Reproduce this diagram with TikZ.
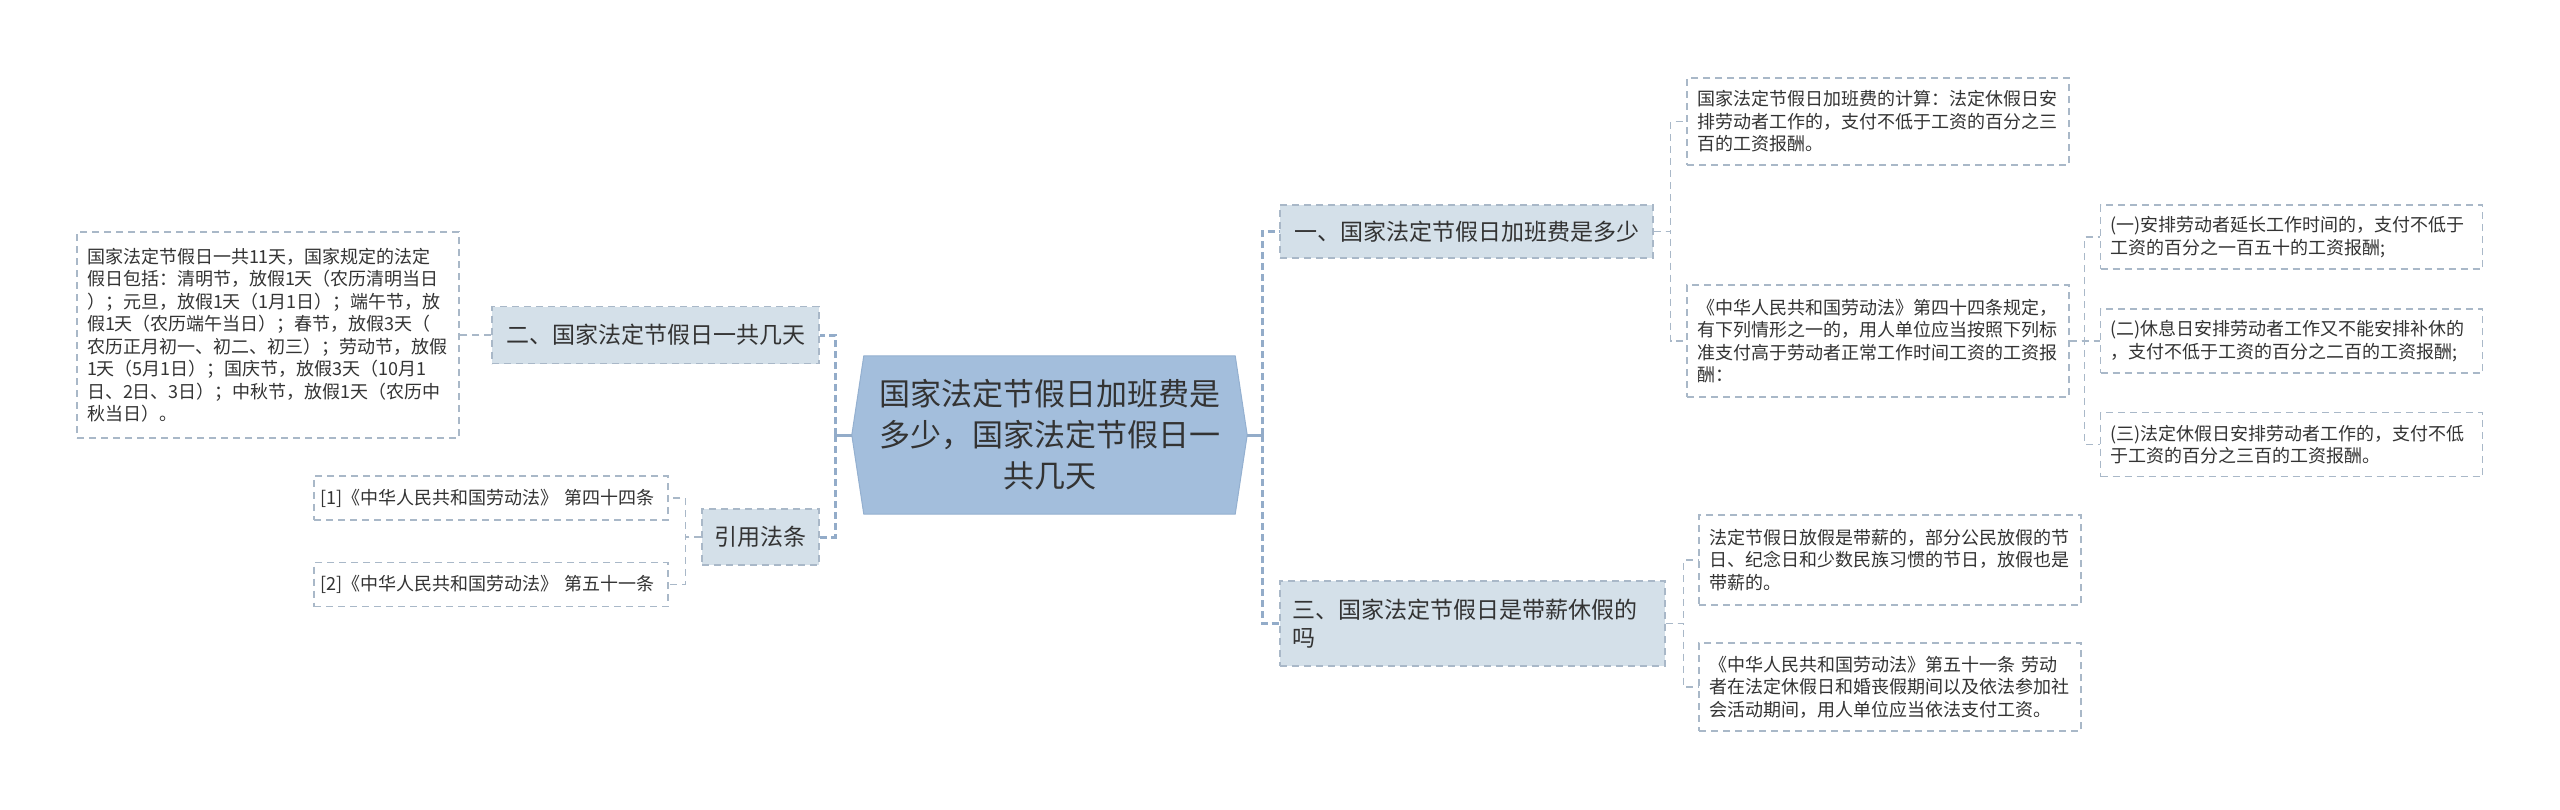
\documentclass[tikz,border=0pt]{standalone}
\usepackage{fontspec}
\setmainfont{Noto Sans CJK SC}
\usetikzlibrary{backgrounds}
\definecolor{rootfill}{HTML}{A3BEDC}
\definecolor{rootline}{HTML}{94B0D0}
\definecolor{topicfill}{HTML}{D4E0E9}
\definecolor{boxline}{HTML}{A9B8C8}
\definecolor{trunkline}{HTML}{93ACC9}
\definecolor{inktext}{HTML}{333333}

\begin{document}
\begin{tikzpicture}[x=1pt, y=-1pt,
  root/.style={minimum width=371pt, minimum height=158pt, inner sep=0pt, align=center, text=inktext, font=\fontsize{31}{41}\selectfont},
  topic/.style={draw=boxline, dash pattern=on 7pt off 5pt, line width=1.3pt, fill=topicfill, inner xsep=12pt, inner ysep=0pt, text=inktext, font=\fontsize{23}{28}\selectfont},
  leaf/.style={draw=boxline, dash pattern=on 7pt off 5pt, line width=1.3pt, fill=white, inner xsep=10pt, inner ysep=0pt, text width=362pt, align=left, text=inktext, font=\fontsize{18}{22.5}\selectfont},
  mainline/.style={draw=trunkline, line width=3pt, dash pattern=on 7pt off 4pt},
  mainstub/.style={draw=trunkline, line width=3pt},
  subline/.style={draw=boxline, line width=1.3pt, dash pattern=on 7pt off 5pt}]
  \useasboundingbox (0,0) rectangle (2560,809);

  % Root
  \node[root] (ctr) at (1049.5,435) {国家法定节假日加班费是\\多少，国家法定节假日一\\共几天};
  \begin{scope}[on background layer]
    \fill[white] (0,0) rectangle (2560,809);
    \filldraw[fill=rootfill, draw=rootline, line width=1pt] (ctr.north west) -- (ctr.north east) -- ([xshift=12pt]ctr.east) -- (ctr.south east) -- (ctr.south west) -- ([xshift=-12pt]ctr.west) -- cycle;
  \end{scope}

  % Left nodes
  \node[topic, minimum width=327pt, minimum height=57pt] (days) at (655.5,335) {二、国家法定节假日一共几天};
  \node[leaf, minimum height=206pt] (daysnote) at (268,335) {国家法定节假日一共11天，国家规定的法定\\假日包括：清明节，放假1天（农历清明当日\\）；元旦，放假1天（1月1日）；端午节，放\\假1天（农历端午当日）；春节，放假3天（\\农历正月初一、初二、初三）；劳动节，放假\\1天（5月1日）；国庆节，放假3天（10月1\\日、2日、3日）；中秋节，放假1天（农历中\\秋当日）。};
  \node[topic, minimum width=117pt, minimum height=56pt] (cite) at (760.5,537) {引用法条};
  \node[leaf, text width=342pt, inner xsep=6pt, minimum height=44pt] (law44) at (491,498) {[1]《中华人民共和国劳动法》~第四十四条};
  \node[leaf, text width=342pt, inner xsep=6pt, minimum height=44pt] (law51) at (491,584.5) {[2]《中华人民共和国劳动法》~第五十一条};

  % Right nodes
  \node[topic, minimum width=373pt, minimum height=53pt] (pay) at (1466.5,231.5) {一、国家法定节假日加班费是多少};
  \node[leaf, minimum height=87pt] (payrule) at (1878,121.5) {国家法定节假日加班费的计算：法定休假日安\\排劳动者工作的，支付不低于工资的百分之三\\百的工资报酬。};
  \node[leaf, minimum height=112pt] (payart) at (1878,341) {《中华人民共和国劳动法》第四十四条规定，\\有下列情形之一的，用人单位应当按照下列标\\准支付高于劳动者正常工作时间工资的工资报\\酬：};
  \node[leaf, minimum height=64pt] (case1) at (2291.5,237) {(一)安排劳动者延长工作时间的，支付不低于\\工资的百分之一百五十的工资报酬;};
  \node[leaf, minimum height=64pt] (case2) at (2291.5,341) {(二)休息日安排劳动者工作又不能安排补休的\\，支付不低于工资的百分之二百的工资报酬;};
  \node[leaf, minimum height=64pt] (case3) at (2291.5,444.5) {(三)法定休假日安排劳动者工作的，支付不低\\于工资的百分之三百的工资报酬。};
  \node[topic, text width=361pt, align=left, minimum height=85pt] (paid) at (1472.5,623.5) {三、国家法定节假日是带薪休假的\\吗};
  \node[leaf, minimum height=90pt] (paidnote) at (1890,560) {法定节假日放假是带薪的，部分公民放假的节\\日、纪念日和少数民族习惯的节日，放假也是\\带薪的。};
  \node[leaf, minimum height=88pt] (paidlaw) at (1890,687) {《中华人民共和国劳动法》第五十一条 劳动\\者在法定休假日和婚丧假期间以及依法参加社\\会活动期间，用人单位应当依法支付工资。};

  % Edges
  \coordinate (jL) at (835,435);
  \coordinate (jR) at (1262,435);
  \draw[mainstub] ([xshift=-12pt]ctr.west) -- (jL);
  \draw[mainline] (jL) |- (days.east);
  \draw[mainline] (jL) |- (cite.east);
  \draw[mainstub] ([xshift=12pt]ctr.east) -- (jR);
  \draw[mainline] (jR) |- (pay.west);
  \draw[mainline] (jR) |- (paid.west);

  \draw[subline] (days.west) -- (daysnote.east);
  \draw[subline] (cite.west) -- ++(-16,0) |- (law44.east);
  \draw[subline] (cite.west) -- ++(-16,0) |- (law51.east);
  \draw[subline] (pay.east) -- ++(17,0) |- (payrule.west);
  \draw[subline] (pay.east) -- ++(17,0) |- (payart.west);
  \draw[subline] (payart.east) -- ++(15,0) |- (case1.west);
  \draw[subline] (payart.east) -- ++(15,0) |- (case2.west);
  \draw[subline] (payart.east) -- ++(15,0) |- (case3.west);
  \draw[subline] (paid.east) -- ++(18,0) |- (paidnote.west);
  \draw[subline] (paid.east) -- ++(18,0) |- (paidlaw.west);
\end{tikzpicture}
\end{document}
